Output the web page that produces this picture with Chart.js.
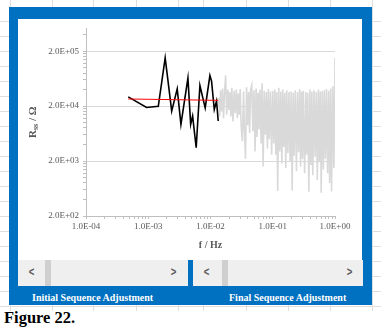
<!DOCTYPE html>
<html>
<head>
<meta charset="utf-8">
<script src="https://cdn.jsdelivr.net/npm/chart.js@4.4.1/dist/chart.umd.min.js"></script>
<style>
    body { margin: 0; width: 381px; height: 335px; position: relative; overflow: hidden; background: #fff;
           font-family: "Liberation Serif", "Times New Roman", serif; }
    .gh { position: absolute; left: 0; width: 381px; height: 1px; background: #dedede; }
    .gv { position: absolute; top: 0; width: 1px; height: 311px; background: #dedede; }
    #frame { position: absolute; left: 9px; top: 7px; width: 363px; height: 298px; background: #0070c0; }
    #panel { position: absolute; left: 18px; top: 19px; width: 344px; height: 241px; background: #fff; }
    #chart { position: absolute; left: 18px; top: 19px; }
    .bar { position: absolute; top: 260px; height: 26px; background: #efefef; }
    .thumb { position: absolute; top: 0; width: 6px; height: 26px; background: #cfcfcf; }
    .arr { position: absolute; top: 5px; font: bold 12px "Liberation Sans", sans-serif; color: #595959; transform: scaleX(0.8); }
    .lab { position: absolute; top: 292px; color: #fff; font-weight: bold; font-size: 10px; white-space: nowrap; }
    #fig { position: absolute; left: 4px; top: 308px; font-weight: bold; font-size: 16.5px; color: #000; }
</style>
</head>
<body>
<div id="sheet"></div>
<div id="frame"></div>
<div id="panel"></div>
<canvas id="chart" width="344" height="240"></canvas>

<div class="bar" style="left:18px;width:170px">
    <div class="thumb" style="left:27px"></div>
    <span class="arr" style="left:10px">&lt;</span>
    <span class="arr" style="left:152px">&gt;</span>
</div>
<div class="bar" style="left:193px;width:170px">
    <div class="thumb" style="left:29px"></div>
    <span class="arr" style="left:10px">&lt;</span>
    <span class="arr" style="left:153px">&gt;</span>
</div>
<div class="lab" style="left:32px">Initial Sequence Adjustment</div>
<div class="lab" style="left:229px">Final Sequence Adjustment</div>
<div id="fig">Figure 22.</div>

<script>
// Axis ticks
const xMajorTicks = [1e-4, 1e-3, 1e-2, 1e-1, 1];
const xTickLabels = ['1.0E-04', '1.0E-03', '1.0E-02', '1.0E-01', '1.0E+00'];
const yMajorTicks = [2e2, 2e3, 2e4, 2e5];
const yTickLabels = ['2.0E+02', '2.0E+03', '2.0E+04', '2.0E+05'];

// Initial sequence (black)
const blackFreq = [4.77e-4, 9.4e-4, 1.45e-3, 1.87e-3, 2.38e-3, 2.92e-3, 3.35e-3, 4.34e-3, 4.8e-3,
    5.16e-3, 5.89e-3, 6.76e-3, 8.22e-3, 9.78e-3, 1.04e-2, 1.15e-2, 1.25e-2, 1.33e-2];
const blackRes = [2.95e4, 1.89e4, 1.98e4, 1.51e5, 1.62e4, 4.13e4, 9.3e3, 6.5e4, 9.3e3,
    1.32e4, 3.49e3, 4.75e4, 1.86e4, 7.2e4, 5.7e4, 1.74e4, 2.47e4, 1.07e4];

// Fitted level (red)
const redFreq = [4.77e-4, 1.33e-2];
const redRes = [2.7e4, 2.55e4];

// Final sequence (grey)
const grayFreq = [
    0.0135, 0.014, 0.0145, 0.015, 0.0156, 0.0162, 0.0168, 0.0175, 0.0182, 0.019,
    0.0197, 0.0205, 0.0213, 0.022, 0.023, 0.024, 0.025, 0.026, 0.027, 0.028,
    0.029, 0.030, 0.031, 0.0325, 0.034, 0.035, 0.0365, 0.038, 0.0395, 0.041,
    0.0425, 0.044, 0.046, 0.048, 0.050, 0.052, 0.054, 0.056, 0.058, 0.060,
    0.0625, 0.065, 0.0675, 0.070, 0.073, 0.076, 0.079, 0.082, 0.085, 0.088,
    0.092, 0.096,
    0.10, 0.104, 0.108, 0.112, 0.116, 0.12, 0.125, 0.13, 0.135, 0.14,
    0.145, 0.15, 0.156, 0.162, 0.168, 0.175, 0.182, 0.19, 0.197, 0.205,
    0.213, 0.22, 0.23, 0.24, 0.25, 0.26, 0.27, 0.28, 0.29, 0.30,
    0.31, 0.325, 0.34, 0.35, 0.365, 0.38, 0.395, 0.41, 0.425, 0.44,
    0.46, 0.48, 0.50, 0.52, 0.54, 0.56, 0.58, 0.60, 0.625, 0.65,
    0.675, 0.70, 0.73, 0.76, 0.79, 0.82, 0.85, 0.88, 0.92, 0.96,
    1.0
];
const grayRes = [
    2.8e4, 1.3e4, 3.9e4, 1.6e4, 4.2e4, 1.2e4, 3.5e4, 7.3e4, 1.4e4, 4.0e4,
    1.7e4, 3.6e4, 1.3e4, 4.3e4, 1.05e4, 3.8e4, 1.5e4, 4.0e4, 1.2e4, 3.4e4,
    1.4e4, 4.1e4, 9.0e3, 4.6e3, 3.7e4, 8.0e3, 2.2e3, 4.4e4, 9.0e3, 3.6e4,
    6.5e3, 3.9e4, 4.8e4, 7.0e3, 3.9e4, 3.0e3, 4.2e4, 5.5e3, 3.5e4, 7.5e3,
    4.0e4, 4.2e3, 5.2e4, 1.6e3, 3.8e4, 6.0e3, 3.6e4, 3.4e3, 4.1e4, 5.0e3,
    3.7e4, 2.6e3,
    3.8e4, 4.2e3, 4.0e4, 2.6e3, 3.6e4, 5.7e2, 4.3e4, 3.0e3, 3.7e4, 1.8e3,
    4.0e4, 3.6e3, 3.5e4, 1.5e3, 3.9e4, 2.8e3, 3.6e4, 2.0e3, 3.7e4, 5.8e2,
    3.5e4, 2.5e3, 3.9e4, 1.3e3, 3.6e4, 2.9e3, 4.1e4, 1.6e3, 3.7e4, 2.2e3,
    3.8e4, 1.2e3, 3.6e4, 2.6e3, 3.5e4, 5.5e2, 4.0e4, 1.7e3, 3.7e4, 1.1e3,
    3.9e4, 2.4e3, 3.6e4, 9.0e2, 4.0e4, 1.9e3, 3.7e4, 5.3e2, 3.8e4, 1.4e3,
    3.9e4, 2.2e3, 4.1e4, 1.2e3, 3.8e4, 8.0e2, 4.2e4, 5.6e2, 4.6e4, 1.5e3,
    1.5e5
];

// spreadsheet gridlines behind the frame
const sheet = document.getElementById('sheet');
for (let y = 21; y <= 307; y += 15) {
    const d = document.createElement('div');
    d.className = 'gh';
    d.style.top = y + 'px';
    sheet.appendChild(d);
}
[10, 52, 93, 136, 178, 203, 246, 288, 330, 372].forEach(x => {
    const d = document.createElement('div');
    d.className = 'gv';
    d.style.left = x + 'px';
    sheet.appendChild(d);
});

const toPoints = (xs, ys) => xs.map((x, i) => ({ x: x, y: ys[i] }));

const labelFor = (v, majors, labels) => {
    const i = majors.findIndex(m => Math.abs(v / m - 1) < 1e-6);
    return i >= 0 ? labels[i] : '';
};

// minor ticks: 2..9 per decade on x, steps of 2x10^n on y (as the source axis does)
function xTickList() {
    const out = [];
    for (let e = -4; e <= 0; e++) {
        out.push({ value: Math.pow(10, e), major: true });
        if (e < 0) for (let m = 2; m <= 9; m++) out.push({ value: m * Math.pow(10, e), major: false });
    }
    return out;
}
function yTickList(max) {
    const out = [];
    yMajorTicks.forEach(t => {
        out.push({ value: t, major: true });
        for (let m = 2; m <= 9; m++) {
            if (t * m <= max) out.push({ value: t * m, major: false });
        }
    });
    return out;
}

const Y_MAX = 5.2e5;

const yTitlePlugin = {
    id: 'yTitle',
    afterDraw(chart) {
        const { ctx, chartArea } = chart;
        const parts = [['R', 11, 0], ['ss', 8, 2.5], [' / \u03A9', 11, 0]];
        ctx.save();
        ctx.translate(15, (chartArea.top + chartArea.bottom) / 2);
        ctx.rotate(-Math.PI / 2);
        ctx.fillStyle = '#595959';
        ctx.textBaseline = 'middle';
        let total = 0;
        parts.forEach(p => {
            ctx.font = 'bold ' + p[1] + 'px "Liberation Serif"';
            total += ctx.measureText(p[0]).width;
        });
        let x = -total / 2;
        parts.forEach(p => {
            ctx.font = 'bold ' + p[1] + 'px "Liberation Serif"';
            ctx.fillText(p[0], x, p[2]);
            x += ctx.measureText(p[0]).width;
        });
        ctx.restore();
    }
};

Chart.defaults.font.family = "'Liberation Serif', 'Times New Roman', serif";
Chart.defaults.color = '#595959';

new Chart(document.getElementById('chart'), {
    type: 'line',
    data: {
        datasets: [
            { label: 'Fit', data: toPoints(redFreq, redRes), borderColor: '#ff0000', borderWidth: 1, order: 0 },
            { label: 'Initial', data: toPoints(blackFreq, blackRes), borderColor: '#000000', borderWidth: 1.6, order: 1 },
            { label: 'Final', data: toPoints(grayFreq, grayRes), borderColor: '#d9d9d9', borderWidth: 1.6, order: 2 }
        ]
    },
    options: {
        responsive: false,
        animation: false,
        devicePixelRatio: 1,
        layout: { padding: { top: 9, right: 27, left: 0, bottom: 0 } },
        elements: { point: { radius: 0 }, line: { tension: 0 } },
        plugins: { legend: { display: false }, tooltip: { enabled: false } },
        scales: {
            x: {
                type: 'logarithmic',
                min: 1e-4,
                max: 1,
                afterBuildTicks: axis => { axis.ticks = xTickList(); },
                afterFit: s => { s.height = 43; },
                ticks: {
                    autoSkip: false, maxRotation: 0, padding: 2,
                    font: { size: 9 },
                    callback: v => labelFor(v, xMajorTicks, xTickLabels)
                },
                grid: { drawOnChartArea: false, tickLength: 3, tickColor: '#bfbfbf' },
                border: { color: '#bfbfbf' },
                title: { display: true, text: 'f / Hz', font: { size: 10, weight: 'bold' }, padding: { top: 8, bottom: 8 } }
            },
            y: {
                type: 'logarithmic',
                min: 2e2,
                max: Y_MAX,
                afterBuildTicks: axis => { axis.ticks = yTickList(Y_MAX); },
                afterFit: s => { s.width = 68; },
                ticks: {
                    autoSkip: false, padding: 4,
                    font: { size: 9 },
                    callback: v => labelFor(v, yMajorTicks, yTickLabels)
                },
                grid: {
                    color: c => (c.tick && c.tick.major ? '#d9d9d9' : 'rgba(0,0,0,0)'),
                    tickLength: 3,
                    tickColor: '#bfbfbf'
                },
                border: { color: '#bfbfbf' }
            }
        }
    },
    plugins: [yTitlePlugin]
});
</script>
</body>
</html>
